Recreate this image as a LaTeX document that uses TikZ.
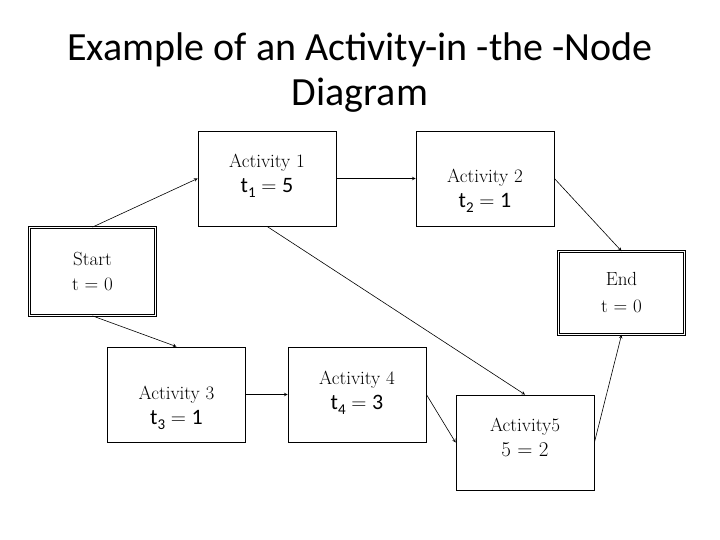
\documentclass[tikz,border=0pt]{standalone}
\usepackage{fontspec}
\newfontfamily\titlefont{Carlito}
\newcommand{\bigline}{\fontsize{21}{26}\selectfont}
\newcommand{\tline}[2]{{\titlefont\fontsize{22}{26}\selectfont t\raisebox{-5pt}{\fontsize{15}{15}\selectfont #1}} {\bigline =} {\titlefont\fontsize{22}{26}\selectfont #2}}
\newcommand{\pushdown}[1]{\rule{0pt}{#1}}
\newcommand{\pushup}[1]{\rule[-#1]{0pt}{#1}}
\begin{document}
\begin{tikzpicture}[
x=1pt, y=-1pt,
box/.style={draw, rectangle, line width=0.8pt, align=center, minimum width=138pt, minimum height=95pt, font=\fontsize{19}{25}\selectfont},
endbox/.style={box, double, double distance=1.5pt, line width=0.8pt, minimum width=126pt},
arrow/.style={->, >=stealth, semithick}
]
\useasboundingbox (0,0) rectangle (720,540);

\node[font=\titlefont\fontsize{40}{45}\selectfont, align=center] (title) at (360,73) {Example of an Activity-in -the -Node\\Diagram};

\node[endbox, minimum height=88pt] (start) at (92.5,271.5) {Start\\ t = 0};

\node[box] (act1) at (267,178.5) {Activity 1\\ \tline{1}{5}\pushup{10pt}};

\node[box] (act2) at (485,178.5) {\pushdown{38pt}Activity 2\\ \tline{2}{1}};

\node[endbox, minimum height=83pt] (end) at (621.5,293) {End\\[2pt] t = 0};

\node[box] (act3) at (176.5,394.5) {\pushdown{41pt}Activity 3\\ \tline{3}{1}};

\node[box] (act4) at (357,394.5) {Activity 4\\ \tline{4}{3}\pushup{9pt}};

\node[box] (act5) at (525,442.5) {Activity5\\ {\bigline 5 = 2\pushup{11pt}}};

\draw[arrow] (start.north) -- (act1.west);
\draw[arrow] (start.south) -- (act3.north);
\draw[arrow] (act1.east) -- (act2.west);
\draw[arrow] (act1.south) -- (act5.north);
\draw[arrow] (act2.east) -- (end.north);
\draw[arrow] (act3.east) -- (act4.west);
\draw[arrow] (act4.east) -- (act5.west);
\draw[arrow] (act5.east) -- (end.south);

\end{tikzpicture}
\end{document}
